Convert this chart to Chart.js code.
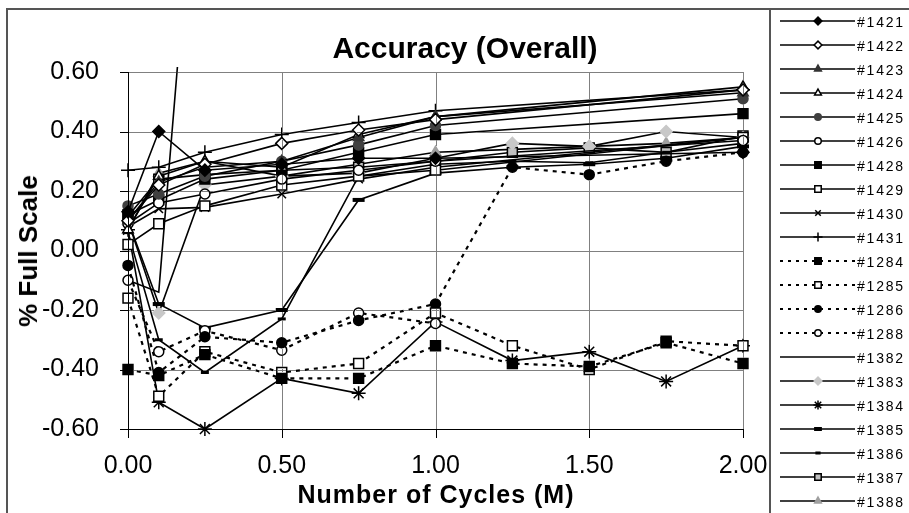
<!DOCTYPE html>
<html><head><meta charset="utf-8">
<script src="https://cdn.jsdelivr.net/npm/chart.js@4/dist/chart.umd.min.js"></script>
<style>
html,body{margin:0;padding:0;background:#fff;overflow:hidden}
#wrap{position:relative;width:909px;height:513px;overflow:hidden;background:#fff}
#wrap canvas{position:absolute;left:0;top:0;display:block}
.t{position:absolute;white-space:nowrap;font-family:"Liberation Sans",Arial,sans-serif;color:#000;line-height:1}
</style>
</head><body>
<div id="wrap">
  <canvas id="c" width="909" height="513"></canvas>
  <canvas id="gc" width="909" height="513"></canvas>
  <canvas id="ov" width="909" height="513"></canvas>
  <div id="title" class="t" style="font-weight:bold;font-size:30px;left:465px;top:32.6px;transform:translateX(-50%)"></div>
  <div id="xt" class="t" style="font-weight:bold;font-size:25px;letter-spacing:1px;left:436px;top:481.8px;transform:translateX(-50%)"></div>
  <div id="yt" class="t" style="font-weight:bold;font-size:26px;left:28px;top:250.7px;transform:translate(-50%,-50%) rotate(-90deg)"></div>
  <div id="leg"></div>
</div>
<script>
// ---- data ----
const chartTitle = 'Accuracy (Overall)';
const xTitle = 'Number of Cycles (M)';
const yTitle = '% Full Scale';
const xTickValues = [0, 0.5, 1.0, 1.5, 2.0];
const yTickValues = [-0.6, -0.4, -0.2, 0, 0.2, 0.4, 0.6];

const cyclesA = [0, 0.1, 0.25, 0.5, 0.75, 1.0, 2.0];
const cyclesB = [0, 0.1, 0.25, 0.5, 0.75, 1.0, 1.25, 1.5, 1.75, 2.0];
const cyclesB6 = [0, 0.1, 0.25, 0.5, 0.75, 1.0];
const cycles1382 = [0, 0.1, 0.25];

const s1421 = [0.13, 0.40, 0.27, 0.29, 0.31, 0.31, 0.33];
const s1422 = [0.10, 0.22, 0.29, 0.36, 0.405, 0.44, 0.54];
const s1423 = [0.10, 0.23, 0.28, 0.30, 0.38, 0.45, 0.53];
const s1424 = [0.07, 0.25, 0.30, 0.28, 0.39, 0.45, 0.55];
const s1425 = [0.15, 0.19, 0.25, 0.30, 0.355, 0.42, 0.51];
const s1426 = [0.09, 0.16, 0.19, 0.24, 0.27, 0.30, 0.37];
const s1428 = [0.12, 0.17, 0.24, 0.27, 0.33, 0.39, 0.46];
const s1429 = [0.02, 0.09, 0.15, 0.22, 0.25, 0.27, 0.38];
const s1430 = [0.08, 0.14, 0.145, 0.19, 0.24, 0.28, 0.38];
const s1431 = [0.27, 0.28, 0.33, 0.39, 0.43, 0.47, 0.54];

const s1284 = [-0.40, -0.42, -0.35, -0.43, -0.43, -0.32, -0.38, -0.39, -0.31, -0.38];
const s1285 = [-0.16, -0.49, -0.34, -0.41, -0.38, -0.21, -0.32, -0.40, -0.305, -0.32];
const s1286 = [-0.05, -0.41, -0.29, -0.31, -0.235, -0.18, 0.28, 0.255, 0.30, 0.33];
const s1288 = [-0.10, -0.34, -0.27, -0.335, -0.21, -0.245];

const s1382 = [-0.10, -0.14, 1.73];
const s1383 = [0.10, -0.21, 0.22, 0.25, 0.26, 0.31, 0.36, 0.35, 0.40, 0.38];
const s1384 = [0.07, -0.51, -0.60, -0.43, -0.48, -0.24, -0.37, -0.34, -0.44, -0.32];
const s1385 = [0.10, -0.18, -0.26, -0.20, 0.17, 0.26, 0.28, 0.29, 0.31, 0.35];
const s1386 = [0.06, -0.30, -0.41, -0.23, 0.25, 0.29, 0.30, 0.295, 0.33, 0.36];
const s1387 = [0.115, 0.24, 0.255, 0.27, 0.28, 0.30, 0.33, 0.345, 0.33, 0.385];
const s1388 = [0.07, 0.26, 0.30, 0.25, 0.29, 0.33, 0.34, 0.35, 0.36, 0.38];

// ---- series table (name, x, y, style) ----
const DASH = [4, 5];
const series = [
  ['1421', cyclesA, s1421, {ps:'rectRot', r:6, bg:'#000', bc:'#000'}],
  ['1422', cyclesA, s1422, {ps:'rectRot', r:6, bg:'#fff', bc:'#000'}],
  ['1423', cyclesA, s1423, {ps:'triangle', r:6, bg:'#333', bc:'#333'}],
  ['1424', cyclesA, s1424, {ps:'triangle', r:6, bg:'#fff', bc:'#000'}],
  ['1425', cyclesA, s1425, {ps:'circle', r:5, bg:'#404040', bc:'#404040'}],
  ['1426', cyclesA, s1426, {ps:'circle', r:5, bg:'#fff', bc:'#000'}],
  ['1428', cyclesA, s1428, {ps:'rect', r:7, bg:'#000', bc:'#000'}],
  ['1429', cyclesA, s1429, {ps:'rect', r:7, bg:'#fff', bc:'#000'}],
  ['1430', cyclesA, s1430, {ps:'crossRot', r:6, bg:'#000', bc:'#000'}],
  ['1431', cyclesA, s1431, {ps:'cross', r:7, bg:'#000', bc:'#000'}],
  ['1284', cyclesB, s1284, {ps:'rect', r:7, bg:'#000', bc:'#000', dash:DASH}],
  ['1285', cyclesB, s1285, {ps:'rect', r:7, bg:'#fff', bc:'#000', dash:DASH}],
  ['1286', cyclesB, s1286, {ps:'circle', r:5, bg:'#000', bc:'#000', dash:DASH}],
  ['1288', cyclesB6, s1288, {ps:'circle', r:5, bg:'#fff', bc:'#000', dash:DASH}],
  ['1382', cycles1382, s1382, {ps:'circle', r:0, bg:'#000', bc:'#000', top:5}],
  ['1383', cyclesB, s1383, {ps:'rectRot', r:6, bg:'#c8c8c8', bc:'#c8c8c8'}],
  ['1384', cyclesB, s1384, {ps:'star', r:7, bg:'#000', bc:'#000'}],
  ['1385', cyclesB, s1385, {ps:'line', r:6, bg:'#000', bc:'#000', pw:4}],
  ['1386', cyclesB, s1386, {ps:'line', r:4, bg:'#000', bc:'#000', pw:3}],
  ['1387', cyclesB, s1387, {ps:'rect', r:7, bg:'#c0c0c0', bc:'#000'}],
  ['1388', cyclesB, s1388, {ps:'triangle', r:6, bg:'#a0a0a0', bc:'#a0a0a0'}],
];

const datasets = series.map(([name, xs, ys, st]) => ({
  label: '#' + name,
  data: xs.map((x, i) => ({x: x, y: ys[i]})),
  borderColor: '#000',
  backgroundColor: 'rgba(0,0,0,0)',
  borderWidth: st.dash ? 2.2 : 1.6,
  borderDash: st.dash || [],
  pointStyle: st.ps,
  pointRadius: st.r,
  pointHoverRadius: st.r,
  pointBackgroundColor: st.bg,
  pointBorderColor: st.bc,
  pointBorderWidth: st.pw || 1.5,
  tension: 0,
  fill: false,
  clip: {left: 10, right: 10, bottom: 10, top: st.top !== undefined ? st.top : 10},
}));

const FONT = '"Liberation Sans", Arial, sans-serif';
const fmt = v => (Math.abs(v) < 1e-9 ? 0 : v).toFixed(2);

document.getElementById('title').textContent = chartTitle;
document.getElementById('xt').textContent = xTitle;
document.getElementById('yt').textContent = yTitle;

const chart = new Chart(document.getElementById('c'), {
  type: 'line',
  data: {datasets},
  options: {
    responsive: false,
    devicePixelRatio: 1,
    animation: false,
    events: [],
    layout: {padding: {left: 0, right: 166, top: 72, bottom: 0}},
    plugins: {legend: {display: false}, title: {display: false}, tooltip: {enabled: false}},
    scales: {
      x: {
        type: 'linear', min: 0, max: 2,
        afterBuildTicks: s => { s.ticks = xTickValues.map(v => ({value: v})); },
        afterFit: s => { s.height = 84; },
        grid: {color: 'rgba(0,0,0,0)', lineWidth: 1, tickLength: 8, tickColor: 'rgba(0,0,0,0)'},
        border: {color: 'rgba(0,0,0,0)', width: 1},
        ticks: {font: {family: FONT, size: 25}, color: '#000', padding: 14, maxRotation: 0, autoSkip: false, callback: v => fmt(v)}
      },
      y: {
        type: 'linear', min: -0.6, max: 0.6,
        afterBuildTicks: s => { s.ticks = yTickValues.map(v => ({value: v})); },
        afterFit: s => { s.width = 128; },
        grid: {color: 'rgba(0,0,0,0)', lineWidth: 1, tickLength: 8, tickColor: 'rgba(0,0,0,0)'},
        border: {color: 'rgba(0,0,0,0)', width: 1},
        ticks: {font: {family: FONT, size: 25}, color: '#000', padding: 21, autoSkip: false, callback: v => fmt(v)}
      }
    }
  }
});

// pixel position of a value through the chart's scale (with a layout fallback)
function pix(axis, v) {
  const s = chart.scales[axis];
  let p = s ? s.getPixelForValue(v) : NaN;
  if (!Number.isFinite(p) || p < 0 || p > 909) {
    p = axis === 'x' ? 128.3 + v * 307.35 : 250.75 - v * 297.2;
  }
  return Math.round(p);
}

// grid lines composited under the dark chart marks; axes and tick marks on top
function drawGrid() {
  const gc = document.getElementById('gc').getContext('2d');
  gc.clearRect(0, 0, 909, 513);
  let src = null;
  try { src = document.getElementById('c').getContext('2d').getImageData(0, 0, 909, 513).data; } catch (e) { src = null; }
  const img = gc.createImageData(909, 513);
  const d = img.data;
  const L = pix('x', xTickValues[0]), R = pix('x', xTickValues[xTickValues.length - 1]);
  const T = pix('y', yTickValues[yTickValues.length - 1]), B = pix('y', yTickValues[0]);
  const put = (x, y) => {
    if (x < 0 || y < 0 || x >= 909 || y >= 513) return;
    const k = (y * 909 + x) * 4;
    if (src) {
      const a = src[k + 3], lum = (src[k] + src[k + 1] + src[k + 2]) / 3;
      if (!(a < 110 || lum > 215)) return;
    }
    d[k] = 128; d[k + 1] = 128; d[k + 2] = 128; d[k + 3] = 255;
  };
  yTickValues.forEach(v => { const y = pix('y', v); for (let x = L; x <= R; x++) put(x, y); });
  xTickValues.forEach(v => { const x = pix('x', v); for (let y = T; y <= B; y++) put(x, y); });
  gc.putImageData(img, 0, 0);
  gc.fillStyle = '#000';
  gc.fillRect(L, T, 1, B - T + 1);
  gc.fillRect(L, B, R - L + 1, 1);
  yTickValues.forEach(v => { gc.fillRect(L - 8, pix('y', v), 8, 1); });
  xTickValues.forEach(v => { gc.fillRect(pix('x', v), B, 1, 9); });
}
drawGrid();
setTimeout(drawGrid, 30);

// frames + legend graphics on the overlay canvas, legend text as HTML
(function () {
  const ctx = document.getElementById('ov').getContext('2d');
  ctx.strokeStyle = '#555';
  ctx.lineWidth = 2;
  ctx.beginPath();
  ctx.moveTo(7, 513); ctx.lineTo(7, 9); ctx.lineTo(909, 9);
  ctx.moveTo(770, 9); ctx.lineTo(770, 513);
  ctx.stroke();
  const leg = document.getElementById('leg');
  chart.data.datasets.forEach((ds, i) => {
    const y = 21 + i * 24;
    ctx.strokeStyle = '#000';
    ctx.lineWidth = ds.borderDash.length ? 2 : 1.5;
    ctx.setLineDash(ds.borderDash.length ? [3, 5] : []);
    ctx.beginPath();
    ctx.moveTo(780, y); ctx.lineTo(855, y);
    ctx.stroke();
    ctx.setLineDash([]);
    if (ds.pointRadius > 0) {
      ctx.fillStyle = ds.pointBackgroundColor;
      ctx.strokeStyle = ds.pointBorderColor;
      ctx.lineWidth = ds.pointStyle === 'line' ? ds.pointBorderWidth : 1.5;
      Chart.helpers.drawPoint(ctx, {
        pointStyle: ds.pointStyle, rotation: 0,
        radius: ds.pointRadius * 0.65, borderWidth: ctx.lineWidth
      }, 818, y);
    }
    const s = document.createElement('div');
    s.className = 't';
    s.style.cssText = 'font-size:14px;letter-spacing:1.8px;left:857px;top:' + (y - 6) + 'px';
    s.textContent = ds.label;
    leg.appendChild(s);
  });
})();
</script>
</body></html>
